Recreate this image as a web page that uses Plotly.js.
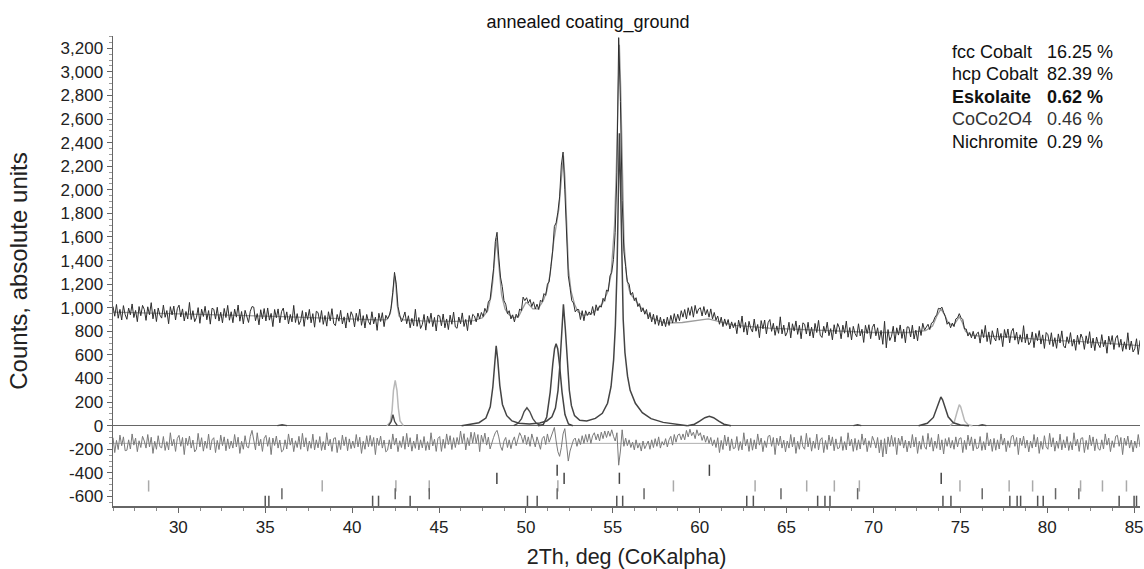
<!DOCTYPE html>
<html>
<head>
<meta charset="utf-8">
<script src="https://cdn.plot.ly/plotly-3.0.1.min.js"></script>
<style>html,body{margin:0;padding:0;background:#fff;}#chart{width:1144px;height:569px;}</style>
</head>
<body>
<div id="chart"></div>
<script>
// ---- Data ----
// Observed scan: uniform 2Theta grid (start, step)
const obsStart = 26.24;
const obsStep = 0.1;
const observed = [
1011,928,1028,911,986,896,1018,941,
902,997,940,1032,917,977,882,1010,932,1020,
986,893,1008,940,1043,906,988,883,998,938,
912,1022,919,976,864,1009,939,1014,896,992,
1022,922,990,888,968,905,1045,900,975,882,
916,1001,868,988,926,1012,898,976,861,996,
987,904,1004,887,962,872,994,917,1020,894,
966,873,988,920,1023,886,968,863,978,918,
875,970,1010,1005,890,950,855,983,905,993,
888,998,895,952,840,985,915,990,872,968,
997,897,965,863,943,880,1020,875,950,857,
890,975,842,962,900,986,872,950,835,970,
959,876,976,859,934,844,966,889,992,866,
848,943,886,978,863,923,828,956,878,966,
931,838,953,885,988,851,933,828,943,883,
856,966,863,920,808,953,883,958,840,936,
905,935,995,1130,1300,1200,1010,940,880,915,
964,864,932,830,910,847,987,842,917,824,
858,943,810,930,868,954,840,918,803,938,
930,847,947,830,905,815,937,860,963,837,
826,921,864,956,841,901,806,934,856,944,
930,880,955,905,960,925,995,960,1050,1070,
1180,1330,1560,1640,1430,1260,1180,1060,1030,950,
975,905,940,880,945,915,990,975,1090,1060,
1085,1040,1070,1010,1050,990,1030,985,1065,1050,
1120,1105,1200,1220,1350,1480,1690,1720,1810,1940,
2210,2320,2000,1570,1270,1170,1060,1040,965,985,
985,900,975,890,975,935,965,940,1010,935,
1025,975,1015,1005,1080,1055,1150,1140,1270,1300,
1410,1640,2150,3290,2750,1910,1480,1350,1220,1200,
1110,1130,1060,1085,1010,1035,965,1000,945,985,
905,960,880,945,860,935,850,920,845,905,
840,920,850,935,870,950,880,945,890,975,
920,985,905,1000,935,1010,920,1020,950,990,
1000,930,1010,940,985,920,990,905,960,895,
930,860,920,840,905,850,900,820,880,830,
873,780,895,827,930,793,875,770,885,825,
794,904,801,858,746,891,821,896,778,874,
900,800,868,766,846,783,923,778,853,760,
792,877,744,864,802,888,774,852,737,872,
860,777,877,760,835,745,867,790,893,767,
748,843,786,878,763,823,728,856,778,866,
830,737,852,784,887,750,832,727,842,782,
754,864,761,818,706,851,781,856,738,834,
862,762,830,728,808,690,885,660,815,722,
758,843,710,830,768,854,740,818,703,838,
835,752,852,735,810,720,842,765,868,810,
830,860,815,870,880,920,940,995,990,1005,
960,925,860,880,830,870,840,905,915,950,
915,900,820,820,760,790,745,800,735,780,
793,700,815,747,850,713,795,690,805,745,
718,828,725,782,670,815,745,820,702,798,
825,725,793,691,771,708,848,703,778,685,
710,795,662,782,720,806,692,770,655,790,
771,688,788,671,746,656,778,701,804,678,
659,754,697,789,674,734,639,767,689,777,
740,647,762,694,797,660,742,637,752,692,
662,772,669,726,614,759,689,764,646,742,
765,665,733,631,711,648,788,643,718,625,
652,737,604,724
];
// Difference curve (observed - calculated), drawn with an offset
const diffZero = -150;
const difference = [
-102,-228,-125,-202,-80,-170,-95,-212,
-208,-120,-198,-70,-165,-105,-220,-128,-185,-90,
-130,-190,-75,-180,-98,-235,-132,-200,-85,-178,
-188,-92,-210,-135,-205,-60,-172,-115,-218,-108,
-82,-175,-100,-245,-105,-168,-88,-190,-122,-222,
-200,-65,-180,-102,-216,-130,-192,-72,-205,-120,
-102,-228,-125,-202,-80,-170,-95,-212,-112,-195,
-130,-190,-75,-180,-98,-235,-132,-200,-85,-178,
-188,-92,-40,-135,-205,-60,-172,-115,-218,-108,
-82,-175,-100,-245,-105,-168,-88,-190,-122,-222,
-208,-120,-198,-70,-165,-105,-220,-128,-185,-90,
-200,-65,-180,-102,-216,-130,-192,-72,-205,-120,
-188,-92,-210,-135,-205,-60,-172,-115,-218,-108,
-102,-228,-125,-202,-80,-170,-95,-212,-112,-195,
-130,-190,-75,-180,-98,-235,-132,-200,-85,-178,
-82,-175,-100,-245,-105,-168,-88,-190,-122,-222,
-208,-120,-198,-70,-165,-105,-220,-128,-185,-90,
-200,-65,-180,-102,-216,-130,-192,-72,-205,-120,
-188,-92,-210,-135,-205,-60,-172,-115,-218,-108,
-92,-218,-115,-192,-70,-160,-85,-202,-102,-185,
-100,-160,-45,-150,-68,-205,-102,-170,-55,-148,
-57,-150,-75,-220,-80,-143,-63,-165,-97,-197,
-140,-100,-60,-40,-95,-175,-210,-130,-100,-185,
-120,-195,-130,-95,-170,-100,-60,-90,-145,-80,
-160,-95,-175,-70,-140,-180,-95,-150,-200,-110,
-90,-160,-70,-140,-95,-50,-15,-130,-220,-260,
-185,-70,-25,-160,-300,-215,-170,-120,-105,-175,
-110,-160,-85,-150,-75,-140,-70,-150,-85,-60,
-120,-70,-130,-55,-110,-45,-100,-45,-90,-35,
-90,-130,-60,-335,-215,-35,-175,-105,-170,-120,
-185,-140,-205,-120,-190,-150,-215,-130,-195,-160,
-130,-200,-120,-185,-110,-175,-95,-190,-135,-165,
-110,-180,-120,-90,-165,-75,-140,-80,-70,-120,
-70,-120,-40,-95,-30,-85,-55,-110,-35,-85,
-60,-125,-80,-140,-90,-150,-100,-170,-120,-185,
-102,-228,-125,-202,-80,-170,-95,-212,-112,-195,
-188,-92,-210,-135,-205,-60,-172,-115,-218,-108,
-208,-120,-198,-70,-165,-105,-220,-128,-185,-90,
-82,-175,-100,-245,-105,-168,-88,-190,-122,-222,
-130,-190,-75,-180,-98,-235,-132,-200,-85,-178,
-200,-65,-180,-102,-216,-130,-192,-72,-205,-120,
-102,-228,-125,-202,-80,-170,-95,-212,-112,-195,
-188,-92,-210,-135,-205,-60,-172,-115,-218,-108,
-208,-120,-198,-70,-165,-105,-220,-128,-185,-90,
-130,-190,-100,-230,-120,-265,-110,-240,-95,-178,
-82,-175,-100,-245,-105,-168,-88,-190,-122,-222,
-130,-190,-75,-180,-98,-235,-132,-200,-85,-178,
-200,-65,-180,-102,-216,-130,-192,-72,-205,-120,
-240,-110,-175,-100,-190,-125,-200,-95,-180,-110,
-102,-228,-125,-202,-80,-170,-95,-212,-112,-195,
-188,-92,-210,-135,-205,-60,-172,-115,-218,-108,
-208,-120,-198,-70,-165,-105,-220,-128,-185,-90,
-82,-175,-100,-245,-105,-168,-88,-190,-122,-222,
-130,-190,-75,-180,-98,-235,-132,-200,-85,-178,
-200,-65,-180,-102,-216,-130,-192,-72,-205,-120,
-188,-92,-210,-135,-205,-60,-172,-115,-218,-108,
-102,-228,-125,-202,-80,-170,-95,-212,-112,-195,
-208,-120,-198,-70,-165,-105,-220,-128,-185,-90,
-82,-175,-100,-245,-105,-168,-88,-190,-122,-222,
-130,-190,-75,-180
];
// Calculated total profile
const calcX = [26.24,28,30,32,34,36,38,40,41.5,42.0,42.2,42.3,42.4,42.45,42.5,42.6,42.7,42.9,44,46,47,47.5,47.8,48.0,48.1,48.2,48.3,48.4,48.5,48.6,48.8,49.0,49.3,49.6,49.8,50.0,50.1,50.4,50.7,51.0,51.2,51.4,51.6,51.75,51.9,52.0,52.1,52.16,52.25,52.35,52.45,52.6,52.8,53.0,53.3,53.7,54.0,54.4,54.7,54.9,55.1,55.2,55.3,55.38,55.45,55.55,55.65,55.8,56.0,56.3,56.7,57.2,58.0,59.0,59.8,60.5,61.2,62,64,66,68,70,72,73.0,73.4,73.65,73.88,74.1,74.3,74.6,74.8,74.94,75.1,75.3,75.6,76,78,80,82,84,85.34];
const calcY = [963,957,950,942,935,925,914,903,897,900,950,1060,1230,1270,1230,1020,930,898,888,885,890,915,975,1100,1230,1420,1590,1430,1230,1110,990,945,915,930,990,1045,1040,990,990,1060,1140,1290,1560,1710,1840,2020,2230,2290,2100,1640,1330,1140,1030,965,935,945,975,1035,1130,1280,1700,2150,2900,3230,2900,2050,1550,1250,1120,1065,985,915,870,875,890,905,880,850,828,815,802,790,790,805,845,930,990,940,870,850,890,925,880,800,770,762,752,726,712,693,678];
// Phase contributions
const hcpX = [46.3,46.8,47.3,47.7,47.95,48.1,48.2,48.29,48.38,48.5,48.65,48.9,49.2,49.6,50.2,50.8,51.2,51.5,51.7,51.85,51.95,52.05,52.16,52.27,52.38,52.5,52.62,52.8,53.1,53.5,54.0,54.4,54.7,54.9,55.05,55.15,55.25,55.32,55.38,55.44,55.51,55.6,55.7,55.85,56.0,56.3,56.7,57.2,57.9,58.6,59.3,null,72.6,73.1,73.45,73.65,73.78,73.88,73.98,74.1,74.3,74.6,75.0,75.5];
const hcpY = [0,10,25,65,160,330,520,677,560,340,180,85,40,20,14,22,40,75,150,300,500,800,1030,820,520,300,170,85,45,40,62,105,190,330,560,850,1350,2050,2480,2100,1450,900,620,420,300,190,110,60,28,12,0,null,0,20,70,150,215,243,220,160,75,25,6,0];
const fccX = [50.7,51.0,51.2,51.4,51.55,51.65,51.74,51.83,51.93,52.08,52.25,52.45,52.7,null,59.3,59.7,60.0,60.3,60.56,60.8,61.1,61.4,61.8];
const fccY = [0,10,74,285,526,653,695,653,526,285,94,14,0,null,0,12,38,68,79,68,38,12,0];
const eskX = [42.0,42.2,42.3,42.38,42.48,42.58,42.66,42.76,42.95,null,74.4,74.65,74.8,74.88,74.94,75.02,75.12,75.25,75.45,75.7];
const eskY = [0,30,130,300,384,300,150,40,0,null,0,30,110,160,178,160,100,40,8,0];
const cocoX = [35.7,35.97,36.25,null,42.1,42.25,42.35,42.45,42.6,null,68.85,69.09,69.3,null,76.05,76.26,76.5];
const cocoY = [0,8,0,null,0,35,93,35,0,null,0,8,0,null,0,8,0];
const nicX = [49.3,49.55,49.75,49.9,50.06,50.22,50.4,50.6,50.85];
const nicY = [0,20,60,120,152,120,60,20,0];
// Reflection positions (tick rows)
const fccRefl = [51.80,60.56];
const hcpRefl = [48.33,52.20,55.38,73.90];
const eskRefl = [28.29,38.28,42.52,44.44,51.84,58.49,63.19,66.16,67.75,69.19,74.98,77.81,79.16,81.92,83.18,84.56];
const cocoRefl = [35.96,42.48,44.44,51.80,56.80,64.68,69.09,76.26,80.48,81.82];
const nicRefl = [35.00,35.21,41.18,41.52,43.34,50.09,50.65,55.23,55.57,62.71,63.09,66.79,67.21,67.50,74.00,74.46,77.85,78.27,78.47,79.45,79.77,84.14,85.00,85.14];
const reflRowLevel = [-378,-446,-511,-577,-641];
// Legend text
const phaseNames = ['fcc Cobalt','hcp Cobalt','Eskolaite','CoCo2O4','Nichromite'];
const phasePercents = ['16.25 %','82.39 %','0.62 %','0.46 %','0.29 %'];
// Axis ticks
const yTickVals = [-600,-400,-200,0,200,400,600,800,1000,1200,1400,1600,1800,2000,2200,2400,2600,2800,3000,3200];
const yTickText = ['-600','-400','-200','0','200','400','600','800','1,000','1,200','1,400','1,600','1,800','2,000','2,200','2,400','2,600','2,800','3,000','3,200'];
const xRange = [26.24, 85.34];

// ---- Build ----
const obsX = observed.map((_, i) => +(obsStart + i * obsStep).toFixed(2));
const FONT = '"Liberation Sans", Arial, Helvetica, sans-serif';

function line(x, y, color, width) {
  return {x: x, y: y, type: 'scatter', mode: 'lines', hoverinfo: 'skip',
          line: {color: color, width: width}, connectgaps: false};
}
function refl(x, level, color) {
  return {x: x, y: x.map(() => level), type: 'scatter', mode: 'markers', hoverinfo: 'skip',
          marker: {symbol: 'line-ns', size: 8, color: color, line: {color: color, width: 1.5}}};
}

const traces = [
  line(xRange, [diffZero, diffZero], '#b0b0b0', 1),
  line(obsX, difference, '#7a7a7a', 1),
  line(calcX, calcY, '#9c9c9c', 1.3),
  line(obsX, observed, '#2e2e2e', 1),
  line(eskX, eskY, '#b8b8b8', 1.5),
  line(nicX, nicY, '#4a4a4a', 1.4),
  line(cocoX, cocoY, '#4a4a4a', 1.4),
  line(fccX, fccY, '#444', 1.5),
  line(hcpX, hcpY, '#444', 1.5),
  refl(fccRefl, reflRowLevel[0], '#444'),
  refl(hcpRefl, reflRowLevel[1], '#444'),
  refl(eskRefl, reflRowLevel[2], '#aaaaaa'),
  refl(cocoRefl, reflRowLevel[3], '#666'),
  refl(nicRefl, reflRowLevel[4], '#555')
];

const annotations = [];
const rowY = [0.9666, 0.9191, 0.8709, 0.8226, 0.7751];
const boldRow = 2;
phaseNames.forEach((n, i) => {
  const b = i === boldRow;
  annotations.push({xref: 'paper', yref: 'paper', x: 0.815, y: rowY[i], xanchor: 'left', yanchor: 'middle',
    showarrow: false, text: b ? '<b>' + n + '</b>' : n, font: {size: 18, color: i === 3 ? '#333' : '#111', family: FONT}});
  annotations.push({xref: 'paper', yref: 'paper', x: 0.9075, y: rowY[i], xanchor: 'left', yanchor: 'middle',
    showarrow: false, text: b ? '<b>' + phasePercents[i] + '</b>' : phasePercents[i], font: {size: 18, color: i === 3 ? '#333' : '#111', family: FONT}});
});

const layout = {
  width: 1144, height: 569,
  margin: {l: 113, r: 4, t: 36, b: 63, pad: 0},
  paper_bgcolor: '#fff', plot_bgcolor: '#fff',
  font: {family: FONT, color: '#222'},
  showlegend: false,
  title: {text: 'annealed coating_ground', font: {size: 18, color: '#111', family: FONT},
          xref: 'container', x: 588 / 1144, xanchor: 'center', yref: 'container', y: 1 - 21.7 / 569, yanchor: 'middle'},
  xaxis: {range: xRange, showline: true, linecolor: '#666', linewidth: 1.5, mirror: false,
          ticks: 'outside', ticklen: 5, tickwidth: 1, tickcolor: '#666', tick0: 0, dtick: 5,
          tickfont: {size: 17, color: '#222'}, showgrid: false, zeroline: false,
          minor: {tick0: 0, dtick: 1.25, ticks: 'outside', ticklen: 3, tickcolor: '#888', showgrid: false},
          title: {text: '2Th, deg (CoKalpha)', font: {size: 21.5, color: '#222'}, standoff: 14}},
  yaxis: {range: [-681, 3304], showline: true, linecolor: '#666', linewidth: 1.5,
          ticks: 'outside', ticklen: 5, tickwidth: 1, tickcolor: '#666',
          tickmode: 'array', tickvals: yTickVals, ticktext: yTickText,
          tickfont: {size: 17, color: '#222'}, showgrid: false,
          zeroline: true, zerolinecolor: '#666', zerolinewidth: 1.5,
          minor: {tickmode: 'linear', tick0: 0, dtick: 50, ticks: 'outside', ticklen: 2.5, tickcolor: '#999', showgrid: false},
          title: {text: 'Counts, absolute units', font: {size: 24, color: '#222'}, standoff: 26}},
  annotations: annotations
};

Plotly.newPlot('chart', traces, layout, {displayModeBar: false, staticPlot: true});
</script>
</body>
</html>
